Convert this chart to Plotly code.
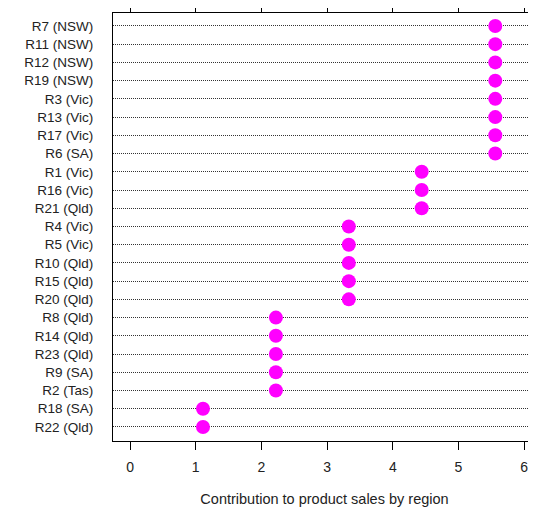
import plotly.graph_objects as go

regions = ["R7 (NSW)", "R11 (NSW)", "R12 (NSW)", "R19 (NSW)", "R3 (Vic)", "R13 (Vic)",
           "R17 (Vic)", "R6 (SA)", "R1 (Vic)", "R16 (Vic)", "R21 (Qld)", "R4 (Vic)",
           "R5 (Vic)", "R10 (Qld)", "R15 (Qld)", "R20 (Qld)", "R8 (Qld)", "R14 (Qld)",
           "R23 (Qld)", "R9 (SA)", "R2 (Tas)", "R18 (SA)", "R22 (Qld)"]
contribution = [5.56, 5.56, 5.56, 5.56, 5.56, 5.56, 5.56, 5.56,
                4.44, 4.44, 4.44,
                3.33, 3.33, 3.33, 3.33, 3.33,
                2.22, 2.22, 2.22, 2.22, 2.22,
                1.11, 1.11]
x_ticks = [0, 1, 2, 3, 4, 5, 6]

fig = go.Figure()
fig.add_trace(go.Scatter(
    x=contribution, y=regions, mode="markers",
    marker=dict(color="#FF00FF", size=14, line=dict(width=0)),
    showlegend=False, cliponaxis=False,
))

n = len(regions)
fig.update_layout(
    width=528, height=500,
    margin=dict(l=105, r=0, t=5, b=67, autoexpand=False),
    paper_bgcolor="white", plot_bgcolor="white",
    font=dict(family="Liberation Sans, Arial, sans-serif", size=13.5, color="#222"),
    xaxis=dict(
        range=[-0.26, 6.18], tickvals=x_ticks, ticktext=[str(t) for t in x_ticks],
        showgrid=False, zeroline=False, automargin=False,
        showline=True, linecolor="black", linewidth=1, mirror="ticks",
        ticks="outside", ticklen=8, tickcolor="black", tickwidth=1,
        ticklabelstandoff=5,
        tickfont=dict(size=14, color="#222"),
        title=dict(text="Contribution to product sales by region", standoff=20,
                   font=dict(size=14.5, color="#222")),
    ),
    yaxis=dict(
        type="category", categoryarray=regions,
        range=[n - 1 + 0.77, -0.71], automargin=False,
        showgrid=True, gridcolor="#333", gridwidth=1, griddash="1px,1px",
        zeroline=False, showline=True, linecolor="black", linewidth=1, mirror=False,
        ticks="", ticklabelstandoff=16,
        tickfont=dict(size=13.5, color="#222"),
    ),
)

fig.write_html("out.html")
